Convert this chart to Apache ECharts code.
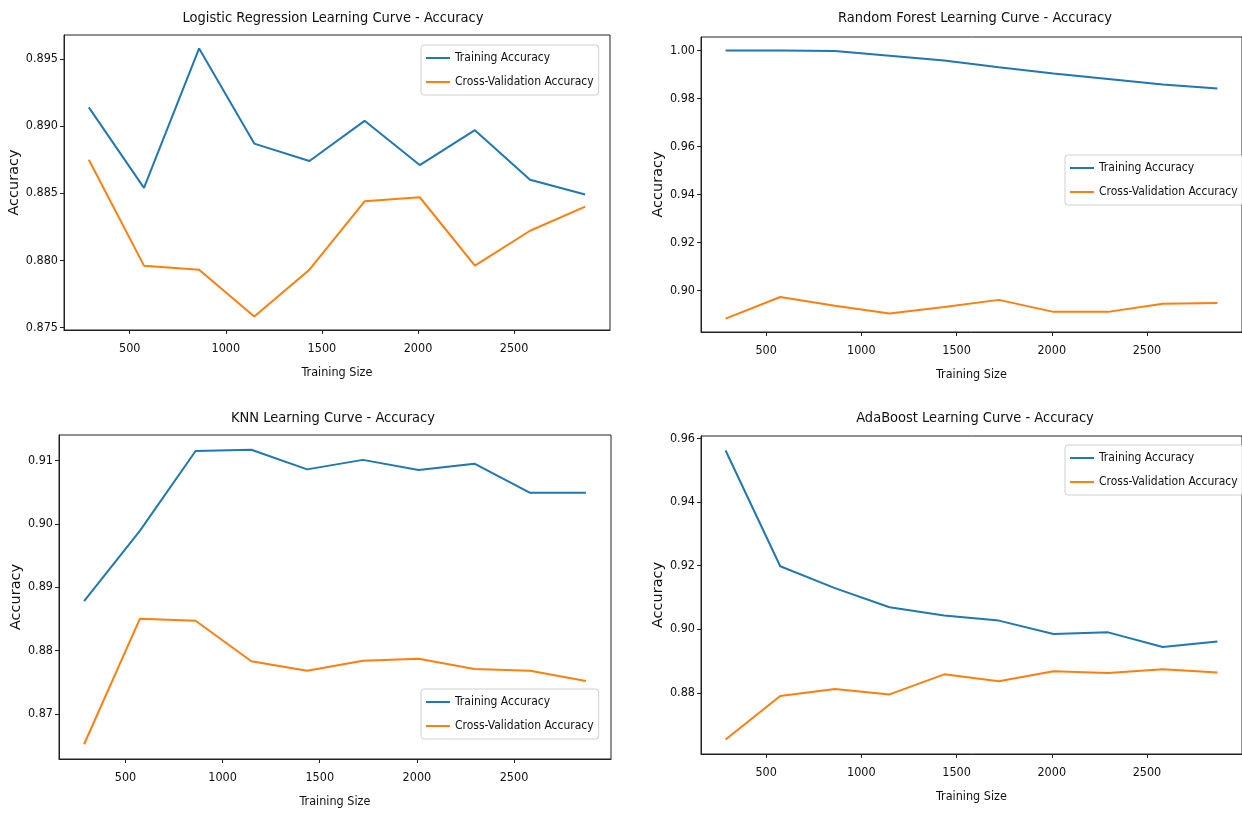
<!DOCTYPE html>
<html>
<head>
<meta charset="utf-8">
<script src="https://cdn.jsdelivr.net/npm/echarts@6/dist/echarts.min.js"></script>
<style>
  html, body { margin: 0; padding: 0; background: #fff; }
  #main { width: 1242px; height: 814px; }
</style>
</head>
<body>
<div id="main"></div>
<script>
// training set sizes (x axis)
const trainSizes = [287, 574, 861, 1148, 1435, 1722, 2009, 2296, 2583, 2870]

// Logistic Regression
const lrTrain = [0.8914, 0.8854, 0.8958, 0.8887, 0.8874, 0.8904, 0.8871, 0.8897, 0.8860, 0.8849]
const lrCv = [0.8875, 0.8796, 0.8793, 0.8758, 0.8793, 0.8844, 0.8847, 0.8796, 0.8822, 0.8840]
// Random Forest
const rfTrain = [1.000, 1.000, 0.9998, 0.9978, 0.9958, 0.9930, 0.9904, 0.9881, 0.9858, 0.9841]
const rfCv = [0.8882, 0.8972, 0.8936, 0.8903, 0.8930, 0.8960, 0.8910, 0.8910, 0.8944, 0.8947]
// KNN
const knnTrain = [0.8878, 0.8989, 0.9115, 0.9117, 0.9086, 0.9101, 0.9085, 0.9095, 0.9049, 0.9049]
const knnCv = [0.8652, 0.8850, 0.8847, 0.8783, 0.8768, 0.8784, 0.8787, 0.8771, 0.8768, 0.8752]
// AdaBoost
const adaTrain = [0.9562, 0.9198, 0.9129, 0.9069, 0.9043, 0.9027, 0.8985, 0.8990, 0.8944, 0.8961]
const adaCv = [0.8653, 0.8790, 0.8812, 0.8795, 0.8858, 0.8836, 0.8868, 0.8862, 0.8874, 0.8864]

// tick labels
const xTicks = [500, 1000, 1500, 2000, 2500]
const lrTicks = [0.875, 0.880, 0.885, 0.890, 0.895]
const rfTicks = [0.90, 0.92, 0.94, 0.96, 0.98, 1.00]
const knnTicks = [0.87, 0.88, 0.89, 0.90, 0.91]
const adaTicks = [0.88, 0.90, 0.92, 0.94, 0.96]

const seriesNames = ['Training Accuracy', 'Cross-Validation Accuracy']
const colors = ['#1f77b4', '#ff7f0e']
const narrow = "'DejaVu Sans Condensed', 'Liberation Sans Narrow', 'DejaVu Sans', sans-serif"

// panel layout (pixels)
const panels = [
  { title: 'Logistic Regression Learning Curve - Accuracy', train: lrTrain, cv: lrCv, ticks: lrTicks, digits: 3,
    grid: { left: 64, right: 632, top: 35, bottom: 484 }, titleX: 333, titleY: 11, legend: { left: 421, top: 45 } },
  { title: 'Random Forest Learning Curve - Accuracy', train: rfTrain, cv: rfCv, ticks: rfTicks, digits: 2,
    grid: { left: 701, right: -6, top: 37, bottom: 482 }, titleX: 975, titleY: 11, legend: { left: 1065, top: 155 } },
  { title: 'KNN Learning Curve - Accuracy', train: knnTrain, cv: knnCv, ticks: knnTicks, digits: 2,
    grid: { left: 59, right: 631, top: 435, bottom: 55 }, titleX: 333, titleY: 411, legend: { left: 421, top: 689 } },
  { title: 'AdaBoost Learning Curve - Accuracy', train: adaTrain, cv: adaCv, ticks: adaTicks, digits: 2,
    grid: { left: 701, right: -6, top: 436, bottom: 60 }, titleX: 975, titleY: 411, legend: { left: 1065, top: 445 } }
]

// matplotlib style 5% margins
function padRange(arr) {
  let lo = Math.min(...arr), hi = Math.max(...arr)
  let p = (hi - lo) * 0.05
  return [lo - p, hi + p]
}

let option = {
  animation: false,
  backgroundColor: '#fff',
  title: [], grid: [], xAxis: [], yAxis: [], legend: [], series: []
}

let xr = padRange(trainSizes)

panels.forEach((p, i) => {
  let yr = padRange(p.train.concat(p.cv))
  option.title.push({
    text: p.title, left: p.titleX, top: p.titleY, textAlign: 'center', padding: 0,
    textStyle: { fontFamily: narrow, fontSize: 14.5, fontWeight: 'normal', color: '#111' }
  })
  option.grid.push(Object.assign({ show: true, borderColor: '#222', borderWidth: 1, backgroundColor: '#fff' }, p.grid))
  option.xAxis.push({
    type: 'value', gridIndex: i, min: xr[0], max: xr[1],
    name: 'Training Size', nameLocation: 'middle', nameGap: 36,
    nameTextStyle: { fontFamily: narrow, fontSize: 12.5, color: '#111' },
    axisLine: { show: true, onZero: false, lineStyle: { color: '#222' } },
    axisTick: { show: true, length: 4, customValues: xTicks, lineStyle: { color: '#222' } },
    axisLabel: {
      customValues: xTicks, fontFamily: narrow, fontSize: 12.5, color: '#111', margin: 12,
      formatter: v => String(Math.round(v))
    },
    splitLine: { show: false }
  })
  option.yAxis.push({
    type: 'value', gridIndex: i, min: yr[0], max: yr[1],
    name: 'Accuracy', nameLocation: 'middle', nameGap: p.digits === 3 ? 41 : 34,
    nameTextStyle: { fontFamily: "'DejaVu Sans', sans-serif", fontSize: 14.5, color: '#111' },
    axisLine: { show: true, onZero: false, lineStyle: { color: '#222' } },
    axisTick: { show: true, length: 4, customValues: p.ticks, lineStyle: { color: '#222' } },
    axisLabel: {
      customValues: p.ticks, fontFamily: narrow, fontSize: 12.5, color: '#111', margin: 6,
      formatter: v => v.toFixed(p.digits)
    },
    splitLine: { show: false }
  })
  option.legend.push({
    data: seriesNames, left: p.legend.left, top: p.legend.top, orient: 'vertical',
    icon: 'rect', itemWidth: 24, itemHeight: 2, itemGap: 12,
    padding: [7, 5, 7, 5],
    borderColor: '#d0d0d0', borderWidth: 1, borderRadius: 3, backgroundColor: 'rgba(255,255,255,0.85)',
    textStyle: { fontFamily: narrow, fontSize: 12, color: '#111' }
  })
  ;[p.train, p.cv].forEach((vals, k) => {
    option.series.push({
      name: seriesNames[k], type: 'line', xAxisIndex: i, yAxisIndex: i,
      data: trainSizes.map((x, j) => [x, vals[j]]),
      showSymbol: false, symbol: 'none',
      lineStyle: { width: 2, color: colors[k] },
      itemStyle: { color: colors[k] }
    })
  })
})

let chart = echarts.init(document.getElementById('main'))
chart.setOption(option)
</script>
</body>
</html>
